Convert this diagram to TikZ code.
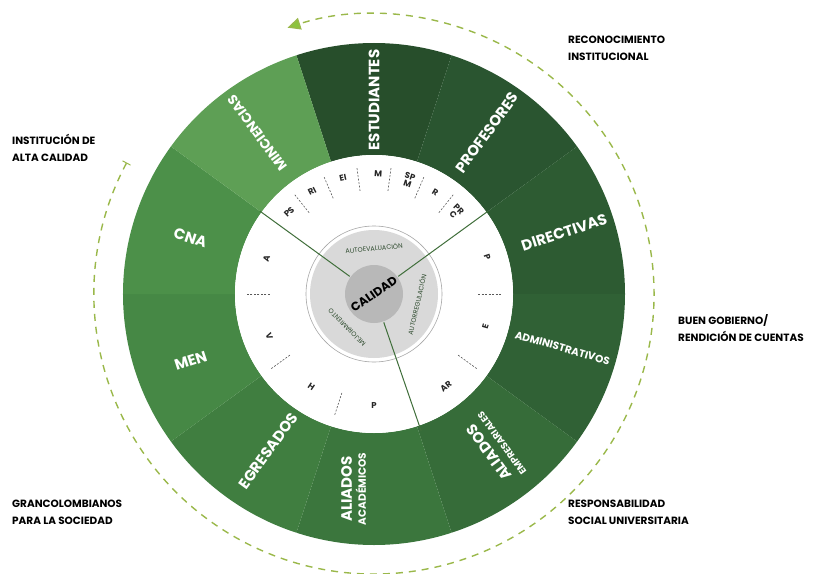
\documentclass[tikz,border=0pt]{standalone}
\usepackage{fontspec}
\setmainfont{Poppins}
\usepackage{tikz}
\usetikzlibrary{arrows.meta, positioning}

\definecolor{segEst}{HTML}{274E2B}
\definecolor{segPro}{HTML}{2A5530}
\definecolor{segDir}{HTML}{2D5B32}
\definecolor{segAdm}{HTML}{306135}
\definecolor{segEmp}{HTML}{366C39}
\definecolor{segAca}{HTML}{3B763D}
\definecolor{segEgr}{HTML}{407E40}
\definecolor{segMen}{HTML}{468845}
\definecolor{segCna}{HTML}{4C9049}
\definecolor{segMin}{HTML}{5E9F55}
\definecolor{loopGreen}{HTML}{9AB84A}
\definecolor{tipGreen}{HTML}{8CC43C}
\definecolor{spokeGreen}{HTML}{3F6E3A}
\definecolor{coreText}{HTML}{2D4A2D}

\pgfdeclareradialshading{halo}{\pgfpoint{0bp}{0bp}}{color(0bp)=(white); color(38bp)=(white); color(46bp)=(black!30); color(50bp)=(black!8)}

\begin{document}
\begin{tikzpicture}[
    x=1pt, y=1pt,
    seglabel/.style={text=white, font=\fontsize{15}{16}\selectfont\bfseries, inner sep=0pt, align=center},
    ringlabel/.style={text=black!85, font=\fontsize{8.5}{8}\selectfont\bfseries, inner sep=0pt, align=center},
    corelabel/.style={text=coreText, font=\fontsize{6.5}{7}\selectfont, inner sep=0pt},
    sidetext/.style={font=\fontsize{10.5}{17}\selectfont\bfseries, align=left, anchor=north west, inner sep=0pt},
    divider/.style={draw=black!65, dash pattern=on 2pt off 1.5pt, line width=0.6pt},
    spoke/.style={draw=spokeGreen, line width=1pt},
    loopline/.style={draw=loopGreen, line width=1.4pt, dash pattern=on 7pt off 6pt}
]
\useasboundingbox (-374,-279) rectangle (447,294);

% Outer ring of stakeholders
\foreach \a/\col in {90/segEst, 54/segPro, 18/segDir, -18/segAdm, -54/segEmp,
                     -90/segAca, -126/segEgr, -162/segMen, -198/segCna, -234/segMin}
  \fill[\col] (\a-18:139) -- (\a-18:251) arc[start angle=\a-18, end angle=\a+18, radius=251]
    -- (\a+18:139) arc[start angle=\a+18, end angle=\a-18, radius=139] -- cycle;

% Dashed cycle around the wheel
\draw[loopline, {Bar[width=9pt,line width=1pt]}-{Triangle[length=13pt,width=12pt,fill=tipGreen]}]
  (152:280) arc[start angle=152, end angle=468, radius=280];

% White ring
\fill[white] (0,0) circle (139);
\foreach \b in {128.6, 113.1, 97.7, 82.3, 66.9, 51.4, 0, -36, -108, -144, 180}
  \draw[divider] (\b:104) -- (\b:127);

% Core circles
\shade[shading=halo] (0,0) circle (94);
\fill[black!15] (0,0) circle (64);
\draw[black!35, line width=0.6pt] (0,0) circle (68);
\fill[black!28] (0,0) circle (29);

% Spokes
\draw[spoke] (144:30) -- (144:141);
\draw[spoke] (36:30) -- (36:141);
\draw[spoke] (-71:30) -- (-71:145);

% Outer labels
\node[seglabel, rotate=90] (est) at (90:194) {ESTUDIANTES};
\node[seglabel, rotate=54] (pro) at (55:197) {PROFESORES};
\node[seglabel, rotate=18] (dir) at (18:200) {DIRECTIVAS};
\node[seglabel, rotate=-16, font=\fontsize{10.5}{12}\selectfont\bfseries] (adm) at (-16:196) {ADMINISTRATIVOS};
\node[seglabel, rotate=126] (emp) at (-52:196) {{\fontsize{15}{16}\selectfont ALIADOS}\\[-2pt]{\fontsize{9.5}{11}\selectfont EMPRESARIALES}};
\node[seglabel, rotate=90] (aca) at (-96:196) {{\fontsize{15}{16}\selectfont ALIADOS}\\[-2pt]{\fontsize{10.5}{12}\selectfont ACADÉMICOS}};
\node[seglabel, rotate=54] (egr) at (-124:189) {EGRESADOS};
\node[seglabel, rotate=18] (men) at (-160:195) {MEN};
\node[seglabel, rotate=-18] (cna) at (163:192) {CNA};
\node[seglabel, rotate=126, font=\fontsize{13.5}{15}\selectfont\bfseries] (min) at (126:199) {MINCIENCIAS};

% Inner ring labels
\node[ringlabel, rotate=43] (ps) at (136:118) {PS};
\node[ringlabel, rotate=27] (ri) at (121:120) {RI};
\node[ringlabel, rotate=12] (ei) at (105:120) {EI};
\node[ringlabel, rotate=-4] (m) at (88:120) {M};
\node[ringlabel, rotate=-18] (spm) at (73:119) {SP\\M};
\node[ringlabel, rotate=-31] (r) at (59:119) {R};
\node[ringlabel, rotate=-45] (prc) at (45:116) {PR\\C};
\node[ringlabel, rotate=-72] (pdir) at (18:119) {P};
\node[ringlabel, rotate=74] (e) at (-16:116) {E};
\node[ringlabel, rotate=38] (ar) at (-52:117) {AR};
\node[ringlabel, rotate=0] (paca) at (-90:112) {P};
\node[ringlabel, rotate=-34] (h) at (-124:112) {H};
\node[ringlabel, rotate=-68] (v) at (-158:113) {V};
\node[ringlabel, rotate=72] (a) at (162:113) {A};

% Core texts
\node[corelabel, rotate=5] (autoev) at (90:46) {AUTOEVALUACIÓN};
\node[corelabel, rotate=77] (autoreg) at (-14:44) {AUTORREGULACIÓN};
\node[corelabel, rotate=135] (mejora) at (-129:43) {MEJORAMIENTO};
\node[font=\fontsize{12}{13}\selectfont\bfseries, rotate=35, inner sep=0pt] (calidad) at (0,0) {CALIDAD};

% Side texts
\node[sidetext] (reco) at (194,258) {RECONOCIMIENTO\\INSTITUCIONAL};
\node[sidetext] (alta) at (-362,160) {INSTITUCIÓN DE\\ALTA CALIDAD};
\node[sidetext] (gob) at (304,-20) {BUEN GOBIERNO/\\RENDICIÓN DE CUENTAS};
\node[sidetext] (gran) at (-362,-206) {GRANCOLOMBIANOS\\PARA LA SOCIEDAD};
\node[sidetext] (resp) at (194,-206) {RESPONSABILIDAD\\SOCIAL UNIVERSITARIA};
\end{tikzpicture}
\end{document}
